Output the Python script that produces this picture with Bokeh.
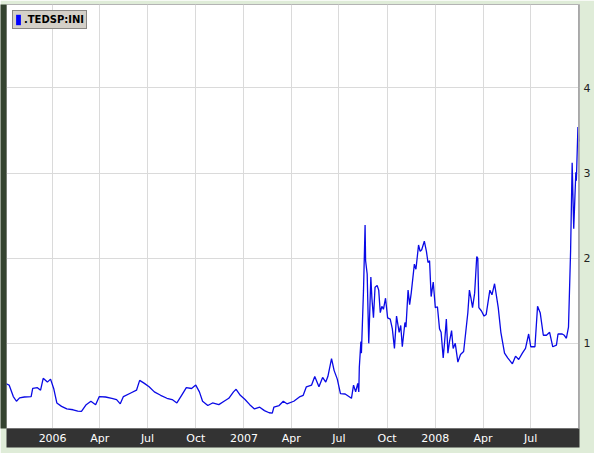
import pandas as pd
from bokeh.plotting import figure
from bokeh.models import Range1d, LinearAxis, FixedTicker, Legend, LegendItem, Span
from bokeh.embed import file_html
from bokeh.resources import INLINE

# ---------------- data ----------------
series_name = ".TEDSP:INI"
base_date = "2006-01-01"

# days after base_date
day_offsets = [
    -90, -83, -75, -69, -63, -54, -41, -38, -29, -23,
    -18, -10, -4, 2, 8, 17, 27, 39, 48, 55,
    64, 73, 82, 89, 101, 113, 122, 129, 135, 150,
    160, 166, 175, 184, 194, 206, 218, 228, 237, 246,
    255, 265, 273,
    280, 286, 296, 305, 317, 327, 336, 345, 350, 358,
    367, 376, 385, 395, 404, 413, 419, 422, 432, 440,
    447, 460, 472, 478, 484, 494, 500, 508, 515, 521,
    525, 532, 537, 543, 549, 558, 570, 574, 578, 582,
    584, 585,
    588, 589, 593, 596, 597, 600, 603, 607, 609, 612,
    615, 619, 622, 625, 628, 631, 635, 639, 644, 648,
    652, 656, 661, 664, 667, 672, 674, 678, 681, 684,
    690, 693, 698, 701, 704, 709, 713, 716, 719, 722,
    726, 730, 734, 738, 741, 745, 748, 751, 754, 757,
    761, 764, 768, 773, 778, 784, 788, 792, 795, 798,
    801,
    805, 809, 811, 813, 818, 823, 827, 834,
    838, 843, 850, 855, 862, 868, 877, 883, 889, 896,
    902, 908, 912, 920, 925, 930, 936, 942, 948, 954,
    961, 964, 972, 976, 980, 984, 988, 991, 994, 998,
    999, 1002, 1004,
]

ted_spread = [
    0.53, 0.51, 0.375, 0.32, 0.36, 0.37, 0.375, 0.47, 0.48, 0.45,
    0.59, 0.545, 0.58, 0.47, 0.30, 0.26, 0.23, 0.22, 0.205, 0.20,
    0.28, 0.32, 0.28, 0.375, 0.37, 0.355, 0.34, 0.29, 0.375, 0.42,
    0.45, 0.565, 0.53, 0.49, 0.43, 0.39, 0.355, 0.34, 0.30, 0.39,
    0.48, 0.47, 0.51,
    0.43, 0.32, 0.27, 0.30, 0.28, 0.32, 0.355, 0.43, 0.46, 0.39,
    0.34, 0.28, 0.23, 0.25, 0.21, 0.185, 0.18, 0.25, 0.27, 0.32,
    0.29, 0.32, 0.375, 0.39, 0.49, 0.51, 0.61, 0.49, 0.60, 0.545,
    0.61, 0.82, 0.68, 0.58, 0.41, 0.405, 0.355, 0.51, 0.43, 0.53,
    0.43, 0.72,
    1.02, 0.885, 1.625, 2.39, 1.97, 1.815, 1.00, 1.78, 1.53, 1.30,
    1.66, 1.68, 1.625, 1.36, 1.435, 1.40, 1.53, 1.30, 1.285, 1.17,
    0.94, 1.32, 1.13, 1.21, 0.96, 1.245, 1.19, 1.625, 1.455, 1.59,
    1.93, 1.87, 2.155, 2.08, 2.10, 2.20, 2.08, 1.95, 1.97, 1.55,
    1.72, 1.42, 1.43, 1.17, 1.13, 0.83, 1.04, 1.285, 0.885, 1.02,
    1.15, 0.94, 1.00, 0.78, 0.87, 0.905, 1.13, 1.36, 1.625, 1.53,
    1.42,
    1.59, 2.02, 2.00, 1.42, 1.38, 1.32, 1.34, 1.625,
    1.57, 1.70, 1.42, 1.13, 0.885, 0.83, 0.76, 0.85, 0.81, 0.885,
    0.94, 1.11, 0.96, 0.96, 1.435, 1.36, 1.095, 1.095, 1.13, 0.96,
    0.98, 1.11, 1.11, 1.095, 1.06, 1.19, 2.08, 3.12, 2.345, 3.01,
    2.91, 3.54, 3.37,
]

x_tick_dates = ["2006-01-01", "2006-04-01", "2006-07-01", "2006-10-01",
                "2007-01-01", "2007-04-01", "2007-07-01", "2007-10-01",
                "2008-01-01", "2008-04-01", "2008-07-01"]
x_tick_labels = ["2006", "Apr", "Jul", "Oct", "2007", "Apr", "Jul", "Oct",
                 "2008", "Apr", "Jul"]
grid_dates = x_tick_dates + ["2008-10-01"]
y_ticks = [1, 2, 3, 4]
x_view = [-88, 1005]
y_view = [0, 4.98]

# ---------------- derived ----------------
base = pd.Timestamp(base_date)
tick_days = [int((pd.Timestamp(d) - base).days) for d in x_tick_dates]
grid_days = [int((pd.Timestamp(d) - base).days) for d in grid_dates]

FONT = "DejaVu Sans"
GREEN_BG = "#dfecd8"

p = figure(width=594, height=453,
           x_range=Range1d(*x_view), y_range=Range1d(*y_view),
           output_backend="svg", toolbar_location=None,
           y_axis_location="right",
           min_border_left=5, min_border_right=15,
           min_border_top=4, min_border_bottom=25,
           background_fill_color="white", border_fill_color=GREEN_BG,
           outline_line_color="#b4b4b4")

# x axis (dark band)
xa = p.xaxis[0]
xa.ticker = FixedTicker(ticks=tick_days)
xa.major_label_overrides = {t: l for t, l in zip(tick_days, x_tick_labels)}
xa.major_tick_line_color = None
xa.major_tick_out = 0
xa.major_tick_in = 0
xa.minor_tick_line_color = None
xa.axis_line_color = None
xa.major_label_text_color = "white"
xa.major_label_text_font = FONT
xa.major_label_text_font_size = "11px"
xa.major_label_standoff = 3
xa.background_fill_color = "#333333"

# y axis on the right
ya = p.yaxis[0]
ya.ticker = FixedTicker(ticks=y_ticks)
ya.major_tick_line_color = None
ya.major_tick_out = 0
ya.major_tick_in = 0
ya.minor_tick_line_color = None
ya.axis_line_color = None
ya.major_label_text_color = "#222222"
ya.major_label_text_font = FONT
ya.major_label_text_font_size = "11px"
ya.major_label_standoff = 4

# dark strip on the left edge
la = LinearAxis(ticker=FixedTicker(ticks=[]), major_tick_out=0, major_tick_in=0,
                axis_line_color=None, major_label_standoff=0,
                axis_label=" ", axis_label_text_font_size="3px",
                axis_label_standoff=0, background_fill_color="#34432f")
p.add_layout(la, "left")

# grids
p.xgrid.ticker = FixedTicker(ticks=grid_days)
p.xgrid.grid_line_color = "#dadada"
p.ygrid.ticker = FixedTicker(ticks=y_ticks)
p.ygrid.grid_line_color = "#dadada"

# right frame border
p.add_layout(Span(location=x_view[1], dimension="height",
                  line_color="#a8a8a8", line_width=3))

# series
p.line(day_offsets, ted_spread, line_color="#0a0ae6", line_width=1.3)

# legend swatch (zero-height area on the series, only used for the legend)
swatch = p.varea(x=day_offsets, y1=ted_spread, y2=ted_spread,
                 fill_color="#0000ff")
legend = Legend(items=[LegendItem(label=series_name, renderers=[swatch])],
                location="top_left", margin=6, padding=2, spacing=0,
                glyph_width=6, glyph_height=13, label_height=13,
                label_standoff=3,
                label_text_font=FONT, label_text_font_style="bold",
                label_text_font_size="10px", label_text_color="black",
                background_fill_color="#d4d0c8", background_fill_alpha=1,
                border_line_color="#404040", border_line_width=1)
p.add_layout(legend)

open("out.html", "w").write(file_html(p, INLINE))
